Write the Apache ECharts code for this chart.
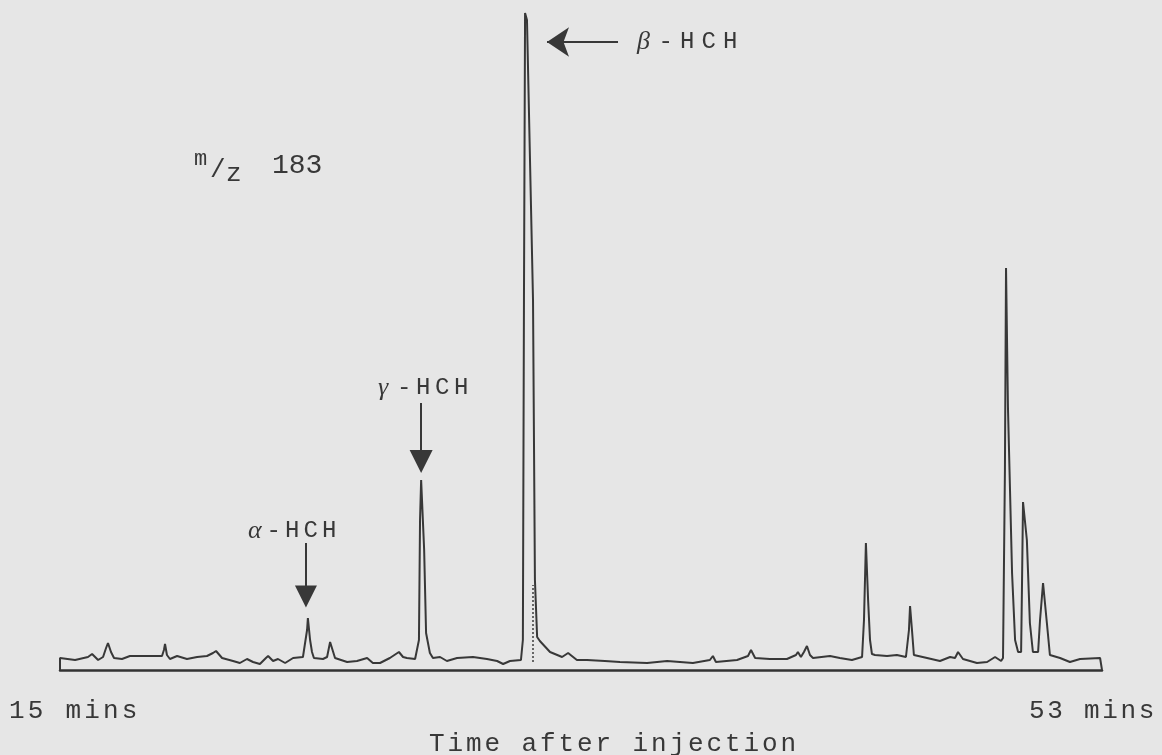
<!DOCTYPE html>
<html>
<head>
<meta charset="utf-8">
<script src="https://cdn.jsdelivr.net/npm/echarts@6/dist/echarts.min.js"></script>
<style>
  html, body { margin: 0; padding: 0; background: #e6e6e6; }
  #chart { width: 1162px; height: 755px; }
</style>
</head>
<body>
<div id="chart"></div>
<script>
// Ion chromatogram, m/z 183 — retention time (min) vs. detector response (arbitrary units)
const retentionTime = [
  // 15 – 24 min baseline
  15.00, 15.00, 15.55, 16.02, 16.17, 16.39, 16.57, 16.68, 16.75, 16.86,
  16.97, 17.26, 17.55, 18.28, 18.72, 18.79, 18.83, 18.90, 19.01, 19.27,
  19.63, 20.00, 20.36, 20.58, 20.69, 20.91, 21.31, 21.56, 21.82, 22.04,
  22.29, 22.51, 22.59, 22.77, 22.95, 23.21, 23.50, 23.86,
  // alpha-HCH and following baseline
  23.93, 24.01, 24.04, 24.12, 24.19, 24.26, 24.59, 24.74, 24.85, 25.03,
  25.47, 25.83, 26.20, 26.41, 26.67, 27.03, 27.25, 27.36, 27.51, 27.65, 27.95,
  // gamma-HCH and following baseline
  28.02, 28.09, 28.13, 28.17, 28.28, 28.35, 28.49, 28.60, 28.86, 29.11,
  29.48, 30.06, 30.57, 30.94, 31.16, 31.41,
  // beta-HCH
  31.81, 31.88, 31.92, 31.96, 32.03, 32.25, 32.32, 32.40, 32.50, 32.87,
  33.31, 33.53, 33.85,
  // 34 – 44 min baseline
  34.22, 34.87, 35.42, 36.41, 37.14, 38.08, 38.70, 38.81, 38.92, 39.69,
  40.09, 40.20, 40.35, 40.89, 41.51, 41.84, 41.91, 42.02, 42.13, 42.24,
  42.35, 42.46, 43.08, 43.44, 43.88,
  // peaks at 44.4 and 46.0 min
  44.25, 44.32, 44.39, 44.47, 44.54, 44.61, 44.72, 45.16, 45.52, 45.85,
  45.96, 46.00, 46.07, 46.14,
  // 46 – 49 min baseline
  46.62, 47.09, 47.46, 47.64, 47.75, 47.93, 48.44, 48.81, 49.10, 49.32,
  // late triplet
  49.39, 49.46, 49.50, 49.57, 49.72, 49.83, 49.94, 50.05, 50.08, 50.12,
  50.26, 50.37, 50.48, 50.67, 50.74, 50.85, 50.99, 51.10,
  // tail
  51.47, 51.83, 52.20, 52.93, 53.00, 53.00
];

const response = [
  0, 12, 10, 13, 16, 10, 13, 22, 27, 18,
  12, 11, 14, 14, 14, 20, 26, 15, 11, 14,
  11, 13, 14, 17, 19, 12, 9, 7, 11, 8,
  6, 12, 14, 9, 11, 7, 12, 13,

  13, 40, 52, 30, 18, 12, 11, 13, 28, 12,
  8, 9, 12, 7, 7, 12, 16, 18, 13, 12, 11,

  11, 30, 150, 190, 120, 37, 17, 12, 13, 9,
  12, 13, 11, 9, 6, 9,

  10, 30, 370, 657, 650, 370, 90, 33, 29, 18,
  13, 17, 10,

  10, 9, 8, 7, 9, 7, 10, 14, 8, 10,
  14, 20, 12, 11, 11, 15, 18, 13, 18, 24,
  15, 12, 14, 12, 10,

  13, 50, 127, 70, 30, 16, 15, 14, 15, 13,
  40, 64, 40, 15,

  12, 9, 13, 12, 18, 11, 7, 8, 13, 9,

  12, 200, 402, 263, 97, 30, 18, 18, 80, 168,
  130, 47, 18, 18, 50, 87, 47, 15,

  12, 8, 11, 12, 12, 0
];

const timeRange = [15, 53];
const rangeLabels = ['15 mins', '53 mins'];
const axisTitle = 'Time after injection';
const ionLabel = { m: 'm', z: 'z', value: '183' };

// Peak annotations: label, retention time, arrow start / end (response units)
const alphaHCH = { name: 'α-HCH', time: 23.97, from: 127, to: 73.5 };
const gammaHCH = { name: 'γ-HCH', time: 28.17, from: 267, to: 208.5 };
const betaHCH = { name: 'β-HCH', level: 628, from: 35.35, to: 32.76 };
const betaCutTime = 32.25;

const seriesData = retentionTime.map((t, i) => [t, response[i]]);

const INK = '#383838';
const MONO = '"Liberation Mono", "DejaVu Sans Mono", monospace';

// Typewriter-style text: each character in a fixed-width cell
function spaced(str) {
  return str.split('').map(ch => {
    const greek = /[α-ω]/.test(ch);
    return '{' + (greek ? 'g' : 'c') + '|' + ch + '}';
  }).join('');
}
function typed(str, x, y, size, pitch, align) {
  return {
    type: 'text',
    x: x, y: y,
    silent: true,
    style: {
      text: spaced(str),
      align: align || 'left',
      verticalAlign: 'middle',
      fill: INK,
      rich: {
        c: { width: pitch, fontSize: size, fontFamily: MONO, fill: INK },
        g: { width: pitch, fontSize: size + 2, fontFamily: '"Liberation Serif", serif', fontStyle: 'italic', fill: INK }
      }
    }
  };
}

const chart = echarts.init(document.getElementById('chart'), null, { renderer: 'canvas' });

const arrowStyle = { color: INK, width: 2, type: 'solid' };

chart.setOption({
  backgroundColor: '#e6e6e6',
  animation: false,
  grid: { left: 60, right: 60, top: 0, bottom: 85 },
  xAxis: {
    type: 'value',
    min: timeRange[0],
    max: timeRange[1],
    axisLine: { show: true, onZero: false, lineStyle: { color: '#333', width: 2.5 } },
    axisTick: { show: false },
    axisLabel: { show: false },
    splitLine: { show: false }
  },
  yAxis: {
    type: 'value',
    min: 0,
    max: 670,
    show: false
  },
  series: [
    {
      type: 'line',
      data: seriesData,
      showSymbol: false,
      smooth: false,
      silent: true,
      lineStyle: { color: INK, width: 2 },
      markLine: {
        silent: true,
        animation: false,
        label: { show: false },
        lineStyle: arrowStyle,
        data: [
          [
            { coord: [alphaHCH.time, alphaHCH.from], symbol: 'none' },
            { coord: [alphaHCH.time, alphaHCH.to], symbol: 'triangle', symbolSize: 22 }
          ],
          [
            { coord: [gammaHCH.time, gammaHCH.from], symbol: 'none' },
            { coord: [gammaHCH.time, gammaHCH.to], symbol: 'triangle', symbolSize: 23 }
          ],
          [
            { coord: [betaHCH.from, betaHCH.level], symbol: 'none' },
            { coord: [betaHCH.to, betaHCH.level], symbol: 'arrow', symbolSize: 22 }
          ],
          [
            { coord: [betaCutTime, 8], symbol: 'none', lineStyle: { type: 'dotted', color: '#666', width: 2 } },
            { coord: [betaCutTime, 85], symbol: 'none' }
          ]
        ]
      }
    }
  ],
  graphic: [
    typed(betaHCH.name, 637, 42, 24, 21.5),
    typed(gammaHCH.name, 378, 388, 24, 19),
    typed(alphaHCH.name, 248, 531, 24, 18.5),
    // m/z 183
    { type: 'text', x: 194, y: 159, silent: true,
      style: { text: ionLabel.m, font: '22px ' + MONO, fill: INK, verticalAlign: 'middle' } },
    { type: 'text', x: 210, y: 170, silent: true,
      style: { text: '/', font: '26px ' + MONO, fill: INK, verticalAlign: 'middle' } },
    { type: 'text', x: 226, y: 174, silent: true,
      style: { text: ionLabel.z, font: '26px ' + MONO, fill: INK, verticalAlign: 'middle' } },
    { type: 'text', x: 272, y: 166, silent: true,
      style: { text: ionLabel.value, font: '28px ' + MONO, fill: INK, verticalAlign: 'middle' } },
    // axis end labels and title
    typed(rangeLabels[0], 9, 711, 26, 18.8),
    typed(rangeLabels[1], 1029, 711, 26, 18.3),
    typed(axisTitle, 429, 744, 26, 18.5)
  ]
});
</script>
</body>
</html>
